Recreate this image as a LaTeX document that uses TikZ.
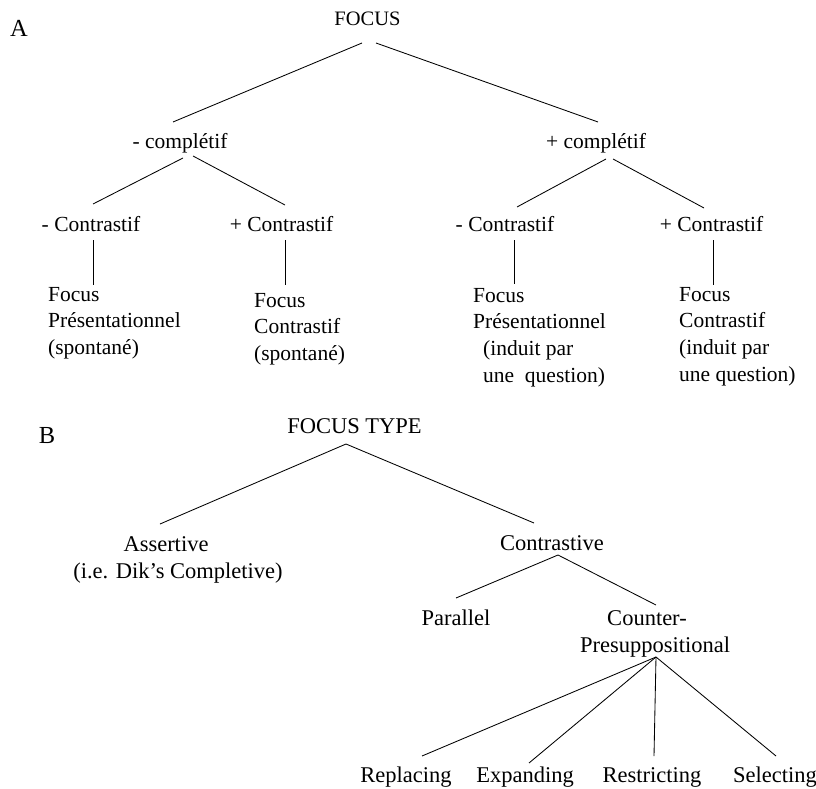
\documentclass[tikz,border=0pt]{standalone}
\usepackage{fontspec}
\setmainfont{Liberation Serif}
\begin{document}
\begin{tikzpicture}[x=1pt,y=-1pt,
  lbl/.style={font=\fontsize{24.5}{29}\selectfont, inner sep=0, anchor=base},
  ta/.style={font=\fontsize{21.5}{26.7}\selectfont, inner sep=0, anchor=base},
  tl/.style={font=\fontsize{21.5}{26.7}\selectfont, inner sep=0, anchor=base west},
  tb/.style={font=\fontsize{22.5}{28}\selectfont, inner sep=0, anchor=base},
  edge/.style={draw, line width=0.85pt}]
\useasboundingbox (0,0) rectangle (816,789);
% ---------- A ----------
\node[lbl] (lA) at (19,37) {A};
\node[ta,font=\fontsize{20.5}{25}\selectfont] (focus) at (367.5,26) {FOCUS};
\node[ta] (mc) at (180,148) {- complétif};
\node[ta] (pc) at (596,148) {+ complétif};
\node[ta] (mmC) at (91,231) {- Contrastif};
\node[ta] (mpC) at (281.5,231) {+ Contrastif};
\node[ta] (pmC) at (505,231) {- Contrastif};
\node[ta] (ppC) at (711.5,231) {+ Contrastif};
\node[tl] (L1) at (48,301) {\begin{tabular}[t]{@{}l@{}}Focus\\Présentationnel\\(spontané)\end{tabular}};
\node[tl] (L2) at (254,307) {\begin{tabular}[t]{@{}l@{}}Focus\\Contrastif\\(spontané)\end{tabular}};
\node[tl] (L3) at (473,302) {\begin{tabular}[t]{@{}l@{}}Focus\\Présentationnel\\\hspace*{10pt}(induit par\\\hspace*{10pt}une\ \ question)\end{tabular}};
\node[tl] (L4) at (679,301) {\begin{tabular}[t]{@{}l@{}}Focus\\Contrastif\\(induit par\\une question)\end{tabular}};
\draw[edge] ([shift={(-5.5,17)}]focus.base) -- ([shift={(-7,-26)}]mc.base);
\draw[edge] ([shift={(8.5,17)}]focus.base) -- ([shift={(2,-26)}]pc.base);
\draw[edge] ([shift={(3,10)}]mc.base) -- ([shift={(2,-27)}]mmC.base);
\draw[edge] ([shift={(13,8)}]mc.base) -- ([shift={(3.5,-26)}]mpC.base);
\draw[edge] ([shift={(10,11)}]pc.base) -- ([shift={(12,-24)}]pmC.base);
\draw[edge] ([shift={(17,11)}]pc.base) -- ([shift={(-7.5,-23)}]ppC.base);
\draw[edge] ([shift={(2,9)}]mmC.base) -- ([shift={(45,-16)}]L1.base west);
\draw[edge] ([shift={(3.5,9)}]mpC.base) -- ([shift={(31,-22)}]L2.base west);
\draw[edge] ([shift={(9,9)}]pmC.base) -- ([shift={(41,-18)}]L3.base west);
\draw[edge] ([shift={(1.5,9)}]ppC.base) -- ([shift={(34,-16)}]L4.base west);
% ---------- B ----------
\node[lbl] (lB) at (47,443) {B};
\node[tb] (ft) at (354.5,433) {FOCUS TYPE};
\node[tb] (assert) at (166,551) {Assertive};
\node[tb] (assert2) at (178,578) {(i.e. Dik’s Completive)};
\node[tb] (contr) at (552,550) {Contrastive};
\node[tb] (para) at (456,625) {Parallel};
\node[tb] (cp1) at (647,625) {Counter-};
\node[tb] (cp2) at (655,652) {Presuppositional};
\node[tb] (repl) at (406,782) {Replacing};
\node[tb] (expa) at (525,782) {Expanding};
\node[tb] (rest) at (652,782) {Restricting};
\node[tb] (sele) at (775,782) {Selecting};
\draw[edge] ([shift={(-8.5,11)}]ft.base) -- ([shift={(-6,-27)}]assert.base);
\draw[edge] ([shift={(-8.5,11)}]ft.base) -- ([shift={(-18,-27)}]contr.base);
\draw[edge] ([shift={(6,5)}]contr.base) -- ([shift={(0,-27)}]para.base);
\draw[edge] ([shift={(6,5)}]contr.base) -- ([shift={(9,-20)}]cp1.base);
\draw[edge] ([shift={(1,5)}]cp2.base) -- ([shift={(16,-26)}]repl.base);
\draw[edge] ([shift={(1,5)}]cp2.base) -- ([shift={(4,-19)}]expa.base);
\draw[edge] ([shift={(1,5)}]cp2.base) -- ([shift={(2,-26)}]rest.base);
\draw[edge] ([shift={(1,5)}]cp2.base) -- ([shift={(1,-26)}]sele.base);
\end{tikzpicture}
\end{document}
